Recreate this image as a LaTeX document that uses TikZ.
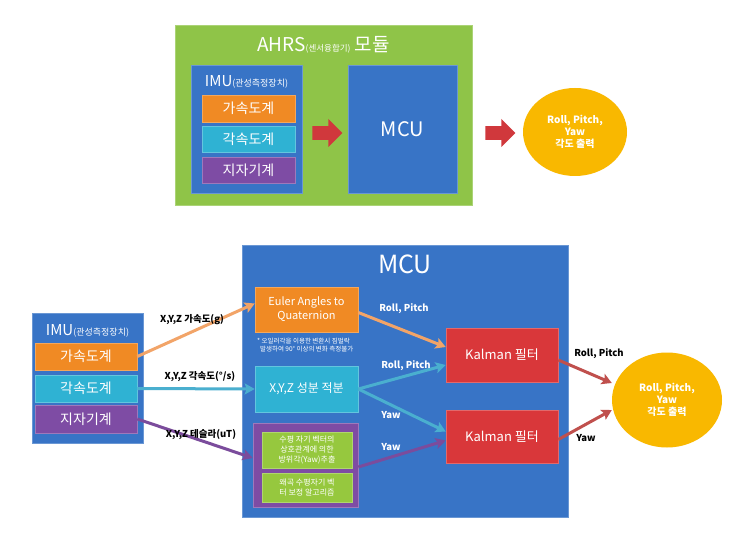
\documentclass[tikz,border=0pt]{standalone}
\usepackage{fontspec}
\setmainfont{Noto Sans CJK KR}
\usetikzlibrary{arrows.meta, shapes.geometric, shapes.arrows}

\definecolor{ahrsgreen}{HTML}{8FC448}
\definecolor{mcublue}{HTML}{3874C6}
\definecolor{accorange}{HTML}{F08A24}
\definecolor{gyrocyan}{HTML}{2FB2D3}
\definecolor{magpurple}{HTML}{7E4CA4}
\definecolor{kalmanred}{HTML}{D9373A}
\definecolor{outyellow}{HTML}{F9B800}
\definecolor{algogreen}{HTML}{96C83E}
\definecolor{blockred}{HTML}{D0383C}
\definecolor{arrorange}{HTML}{F2A468}
\definecolor{arrcyan}{HTML}{4AAFCF}
\definecolor{arrpurple}{HTML}{7B4C9C}
\definecolor{arrred}{HTML}{C0504D}

\tikzset{
  box/.style={draw=#1!75!white, fill=#1, line width=0.6pt, text=white, align=center, inner sep=1pt},
  blockarrow/.style={shape=single arrow, fill=blockred, minimum height=30pt, minimum width=28pt,
    inner xsep=0pt, inner ysep=6.5pt, single arrow head extend=7pt},
  conn/.style={draw=#1, line width=3pt, -{Stealth[length=10pt,width=11pt,inset=2pt]}},
  lbl/.style={font=\bfseries\fontsize{9.5}{11}\selectfont},
  wlbl/.style={lbl, text=white},
  sensor/.style={font=\fontsize{14}{16}\selectfont},
  imulabel/.style={text=white, font=\fontsize{15}{17}\selectfont},
  outbubble/.style={ellipse, fill=outyellow, text=white, align=center, inner sep=0pt,
    font=\bfseries\fontsize{10}{12}\selectfont}
}

\begin{document}
\begin{tikzpicture}[x=1pt,y=-1pt]
\useasboundingbox[fill=white] (0,0) rectangle (743,537);

\node[box=ahrsgreen, minimum width=297, minimum height=180] (ahrs) at (323.5,115) {};
\node[text=white, font=\fontsize{19}{22}\selectfont] (ahrstitle) at (323.5,45)
  {AHRS{\fontsize{8.5}{9}\selectfont(센서융합기)} 모듈};

\node[box=mcublue, minimum width=111, minimum height=128] (imu1) at (246.5,129) {};
\node[imulabel] (imu1label) at (246.5,82)
  {IMU{\fontsize{9}{10}\selectfont(관성측정장치)}};
\node[box=accorange, sensor, minimum width=93, minimum height=27] (acc1) at (248.5,108.5) {가속도계};
\node[box=gyrocyan, sensor, minimum width=93, minimum height=26] (gyro1) at (248.5,139) {각속도계};
\node[box=magpurple, sensor, minimum width=93, minimum height=26] (mag1) at (248.5,170) {지자기계};

\node[blockarrow] (arr1) at (324,133) {};

\node[box=mcublue, minimum width=109, minimum height=128, font=\fontsize{20}{24}\selectfont] (mcu1) at (402.5,129) {MCU};

\node[blockarrow] (arr2) at (497,133) {};

\node[outbubble, minimum width=104, minimum height=88] (out1) at (575,132) {Roll, Pitch,\\Yaw\\각도 출력};

\node[box=mcublue, minimum width=326, minimum height=272] (mcu2) at (405,381) {};
\node[text=white, font=\fontsize{25}{30}\selectfont] (mcutitle) at (405,264) {MCU};

\node[box=mcublue, minimum width=111, minimum height=130] (imu2) at (87.5,378) {};
\node[imulabel] (imu2label) at (87.5,331)
  {IMU{\fontsize{9}{10}\selectfont(관성측정장치)}};
\node[box=accorange, sensor, minimum width=102, minimum height=27] (acc2) at (86,356.5) {가속도계};
\node[box=gyrocyan, sensor, minimum width=102, minimum height=27] (gyro2) at (86,388.5) {각속도계};
\node[box=magpurple, sensor, minimum width=102, minimum height=28] (mag2) at (86,419) {지자기계};

\node[box=accorange, minimum width=103, minimum height=45, font=\fontsize{11}{14}\selectfont] (euler) at (306.5,309.5)
  {Euler Angles to\\Quaternion};
\node[text=white, align=left, font=\fontsize{6.5}{7.5}\selectfont, anchor=north west, inner sep=0pt] (note) at (257,338)
  {* 오일러각을 이용한 변환시 짐벌락\\\ \ 발생하여 90° 이상의 변화 측정불가};
\node[box=gyrocyan, minimum width=103, minimum height=46, font=\fontsize{12}{14}\selectfont] (integ) at (306.5,389)
  {X,Y,Z 성분 적분};
\node[box=magpurple, minimum width=105, minimum height=84] (magbox) at (305.5,465) {};
\node[box=algogreen, minimum width=90, minimum height=36, font=\fontsize{8}{10}\selectfont] (yaw) at (307,450)
  {수평 자기 벡터의\\상호관계에 의한\\방위각(Yaw)추출};
\node[box=algogreen, minimum width=90, minimum height=29, font=\fontsize{8}{10}\selectfont] (comp) at (307,487.5)
  {왜곡 수평자기 벡\\터 보정 알고리즘};

\node[box=kalmanred, minimum width=112, minimum height=54, font=\fontsize{13}{15}\selectfont] (kal1) at (502,355) {Kalman 필터};
\node[box=kalmanred, minimum width=112, minimum height=53, font=\fontsize{13}{15}\selectfont] (kal2) at (502,436.5) {Kalman 필터};

\node[outbubble, minimum width=110, minimum height=95] (out2) at (667,400) {Roll, Pitch,\\Yaw\\각도 출력};

\draw[conn=arrorange] (acc2.east) -- ([yshift=6pt]euler.west);
\draw[conn=arrcyan] (gyro2.east) -- (integ.west);
\draw[conn=arrpurple] (mag2.east) -- ([yshift=7pt]magbox.west);
\draw[conn=arrorange] ([yshift=-3pt]euler.east) -- ([yshift=8pt]kal1.west);
\draw[conn=arrcyan] (integ.east) -- ([yshift=-10pt]kal1.west);
\draw[conn=arrcyan] (integ.east) -- ([yshift=5pt]kal2.west);
\draw[conn=arrpurple] ([yshift=-2pt]magbox.east) -- ([yshift=-4pt]kal2.west);
\draw[conn=arrred] ([yshift=-5pt]kal1.east) -- (out2.west |- 0,383);
\draw[conn=arrred] ([yshift=-3pt]kal2.east) -- (out2.west |- 0,410);

\node[lbl] (lacc) at (192,320) {X,Y,Z 가속도(g)};
\node[lbl] (lgyro) at (200,377) {X,Y,Z 각속도(°/s)};
\node[lbl] (lmag) at (201,435) {X,Y,Z 테슬라(uT)};
\node[wlbl] (lrp1) at (404,309) {Roll, Pitch};
\node[wlbl] (lrp2) at (406,366) {Roll, Pitch};
\node[wlbl] (lyaw1) at (391,415) {Yaw};
\node[wlbl] (lyaw2) at (391,447) {Yaw};
\node[lbl] (lrp3) at (599,354) {Roll, Pitch};
\node[lbl] (lyaw3) at (586,438) {Yaw};
\end{tikzpicture}
\end{document}
